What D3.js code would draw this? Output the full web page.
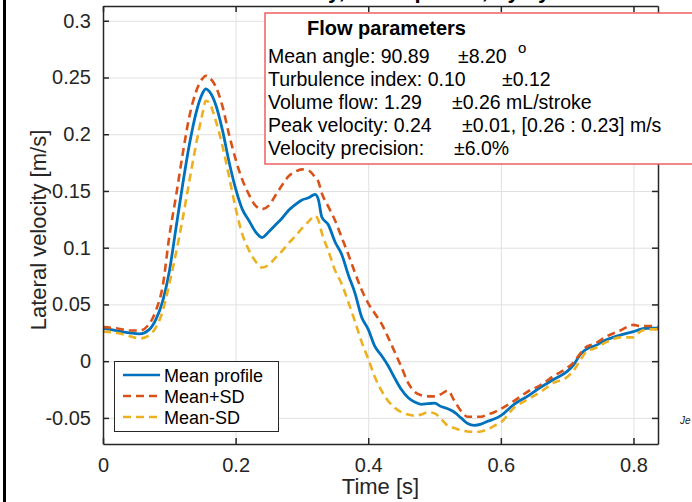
<!DOCTYPE html>
<html>
<head>
<meta charset="utf-8">
<script src="https://cdn.jsdelivr.net/npm/d3@7"></script>
<style>
  body { margin: 0; background: #fff; }
  svg { display: block; font-family: "Liberation Sans", Arial, sans-serif; }
</style>
</head>
<body>
<svg id="chart" width="692" height="502"></svg>
<script>
// time axis (s), shared by the three series
var time = [0, 0.02, 0.04, 0.055, 0.07, 0.08, 0.09, 0.1, 0.11, 0.12, 0.13, 0.14, 0.15, 0.155, 0.16, 0.17, 0.18, 0.19, 0.2,
  0.21, 0.22, 0.23, 0.24, 0.25, 0.26, 0.27, 0.28, 0.29, 0.3, 0.31, 0.32, 0.325, 0.33, 0.34, 0.35, 0.36, 0.37, 0.38, 0.39, 0.4,
  0.41, 0.42, 0.43, 0.44, 0.45, 0.46, 0.47, 0.48, 0.49, 0.5, 0.51, 0.52, 0.53, 0.54, 0.55, 0.56, 0.57, 0.58, 0.59, 0.6,
  0.62, 0.64, 0.66, 0.68, 0.7, 0.71, 0.72, 0.73, 0.74, 0.76, 0.78, 0.8, 0.81, 0.82, 0.83, 0.837];

// lateral velocity (m/s)
var meanProfile = [0.029, 0.027, 0.025, 0.024, 0.028, 0.037, 0.053, 0.079, 0.117, 0.155, 0.19, 0.218, 0.236, 0.240, 0.238, 0.226, 0.204, 0.176, 0.152,
  0.134, 0.124, 0.114, 0.109, 0.114, 0.12, 0.126, 0.133, 0.138, 0.142, 0.144, 0.147, 0.142, 0.127, 0.12, 0.105, 0.094, 0.076, 0.06, 0.039, 0.028,
  0.013, 0.005, -0.004, -0.015, -0.025, -0.032, -0.036, -0.038, -0.0375, -0.037, -0.040, -0.042, -0.045, -0.050, -0.055, -0.0565, -0.0555, -0.053, -0.051, -0.048,
  -0.038, -0.031, -0.023, -0.016, -0.009, -0.003, 0.006, 0.011, 0.013, 0.019, 0.023, 0.026, 0.028, 0.029, 0.029, 0.029];

var meanPlusSD = [0.030, 0.029, 0.027, 0.027, 0.033, 0.045, 0.066, 0.11, 0.145, 0.182, 0.215, 0.237, 0.249, 0.2515, 0.25, 0.242, 0.225, 0.2, 0.178,
  0.16, 0.147, 0.137, 0.134, 0.137, 0.146, 0.155, 0.163, 0.167, 0.169, 0.168, 0.162, 0.158, 0.148, 0.136, 0.124, 0.109, 0.094, 0.078, 0.063, 0.051,
  0.042, 0.033, 0.021, 0.008, -0.005, -0.019, -0.027, -0.030, -0.031, -0.031, -0.029, -0.026, -0.035, -0.044, -0.049, -0.049, -0.049, -0.047, -0.045, -0.042,
  -0.035, -0.027, -0.021, -0.013, -0.006, -0.001, 0.007, 0.013, 0.015, 0.022, 0.027, 0.032, 0.031, 0.031, 0.031, 0.030];

var meanMinusSD = [0.026, 0.025, 0.022, 0.020, 0.023, 0.03, 0.044, 0.068, 0.095, 0.125, 0.158, 0.19, 0.218, 0.2295, 0.228, 0.212, 0.19, 0.163, 0.135,
  0.112, 0.098, 0.088, 0.0825, 0.085, 0.091, 0.097, 0.104, 0.11, 0.117, 0.123, 0.128, 0.124, 0.113, 0.097, 0.08, 0.068, 0.052, 0.035, 0.017, 0.002,
  -0.014, -0.026, -0.035, -0.041, -0.045, -0.047, -0.048, -0.047, -0.045, -0.046, -0.051, -0.057, -0.059, -0.061, -0.062, -0.0623, -0.062, -0.06, -0.057, -0.054,
  -0.041, -0.034, -0.027, -0.019, -0.014, -0.008, 0.001, 0.009, 0.011, 0.017, 0.021, 0.021, 0.026, 0.028, 0.028, 0.028];

var seriesNames = ["Mean profile", "Mean+SD", "Mean-SD"];
var seriesColors = ["#0072BD", "#D95319", "#EDB120"];

var xTicks = [0, 0.2, 0.4, 0.6, 0.8];
var xTickLabels = ["0", "0.2", "0.4", "0.6", "0.8"];
var yTicks = [-0.05, 0, 0.05, 0.1, 0.15, 0.2, 0.25, 0.3];
var yTickLabels = ["-0.05", "0", "0.05", "0.1", "0.15", "0.2", "0.25", "0.3"];

// text of the flow parameter box: [label, value]
var paramTitle = "Flow parameters";
var paramLabels = ["Mean angle: 90.89", "Turbulence index: 0.10", "Volume flow: 1.29", "Peak velocity: 0.24", "Velocity precision:"];
var paramValues = ["\u00b18.20", "\u00b10.12", "\u00b10.26 mL/stroke", "\u00b10.01, [0.26 : 0.23] m/s", "\u00b16.0%"];

// layout (plot area edges)
var pLeft = 103, pRight = 658, pTop = 6, pBottom = 444;
var axisColor = "#262626";

var svg = d3.select("#chart");

// figure edge on the left
svg.append("rect").attr("x", 3).attr("y", 0).attr("width", 3).attr("height", 502).attr("fill", "#000");

// title, mostly above the window
svg.append("text")
  .attr("x", (pLeft + pRight) / 2).attr("y", -2)
  .attr("text-anchor", "middle")
  .attr("font-size", 22).attr("font-weight", "bold")
  .text("Lateral velocity, mean profile, by cycle");

var x = d3.scaleLinear().domain([0, 0.837]).range([pLeft, pRight]);
var y = d3.scaleLinear().domain([-0.073, 0.313]).range([pBottom, pTop]);

// background
svg.append("rect").attr("x", pLeft).attr("y", pTop).attr("width", pRight - pLeft).attr("height", pBottom - pTop).attr("fill", "#fff");

// grid
svg.append("g").attr("transform", "translate(0," + pBottom + ")")
  .call(d3.axisBottom(x).tickValues(xTicks).tickSize(-(pBottom - pTop)).tickFormat(""))
  .call(function (g) { g.select(".domain").remove(); g.selectAll("line").attr("stroke", "#e0e0e0").attr("stroke-width", 1); });
svg.append("g").attr("transform", "translate(" + pLeft + ",0)")
  .call(d3.axisLeft(y).tickValues(yTicks).tickSize(-(pRight - pLeft)).tickFormat(""))
  .call(function (g) { g.select(".domain").remove(); g.selectAll("line").attr("stroke", "#e0e0e0").attr("stroke-width", 1); });

// lines
var data = [meanProfile, meanPlusSD, meanMinusSD];
var line = d3.line()
  .x(function (d, i) { return x(time[i]); })
  .y(function (d) { return y(d); })
  .curve(d3.curveMonotoneX);

svg.append("g").selectAll("path")
  .data(data)
  .enter().append("path")
  .attr("d", line)
  .attr("fill", "none")
  .attr("stroke", function (d, i) { return seriesColors[i]; })
  .attr("stroke-width", function (d, i) { return i == 0 ? 2.8 : 2.6; })
  .attr("stroke-dasharray", function (d, i) { return i == 0 ? null : "8,5"; })
  .attr("stroke-linejoin", "round");

// axes, ticks pointing inward on all four sides
function styleAxis(g) {
  g.select(".domain").attr("stroke", axisColor).attr("stroke-width", 1.5);
  g.selectAll(".tick line").attr("stroke", axisColor).attr("stroke-width", 1.5);
  g.selectAll("text").attr("fill", axisColor).attr("font-size", 20)
    .attr("font-family", "Liberation Sans, Arial, sans-serif");
}
svg.append("g").attr("transform", "translate(0," + pBottom + ")")
  .call(d3.axisBottom(x).tickValues(xTicks).tickSizeInner(-6).tickSizeOuter(0).tickPadding(14)
    .tickFormat(function (d, i) { return xTickLabels[i]; }))
  .call(styleAxis);
svg.append("g").attr("transform", "translate(0," + pTop + ")")
  .call(d3.axisTop(x).tickValues(xTicks).tickSizeInner(-6).tickSizeOuter(0).tickFormat(""))
  .call(styleAxis);
svg.append("g").attr("transform", "translate(" + pLeft + ",0)")
  .call(d3.axisLeft(y).tickValues(yTicks).tickSizeInner(-6).tickSizeOuter(0).tickPadding(12)
    .tickFormat(function (d, i) { return yTickLabels[i]; }))
  .call(styleAxis);
svg.append("g").attr("transform", "translate(" + pRight + ",0)")
  .call(d3.axisRight(y).tickValues(yTicks).tickSizeInner(-6).tickSizeOuter(0).tickFormat(""))
  .call(styleAxis);

// axis labels
svg.append("text")
  .attr("x", (pLeft + pRight) / 2).attr("y", 494)
  .attr("text-anchor", "middle").attr("font-size", 22).attr("fill", axisColor)
  .text("Time [s]");
svg.append("text")
  .attr("transform", "translate(46," + ((pTop + pBottom) / 2 + 5) + ") rotate(-90)")
  .attr("text-anchor", "middle").attr("font-size", 22).attr("fill", axisColor)
  .text("Lateral velocity [m/s]");

// legend
var legend = svg.append("g");
legend.append("rect")
  .attr("x", 114.5).attr("y", 361.5).attr("width", 164).attr("height", 70)
  .attr("fill", "#fff").attr("stroke", axisColor).attr("stroke-width", 1);
seriesNames.forEach(function (name, i) {
  var ly = 375 + i * 21;
  legend.append("line")
    .attr("x1", 123).attr("x2", 160).attr("y1", ly).attr("y2", ly)
    .attr("stroke", seriesColors[i]).attr("stroke-width", 2.6)
    .attr("stroke-dasharray", i == 0 ? null : "8,5");
  legend.append("text")
    .attr("x", 164).attr("y", ly + 6.5)
    .attr("font-size", 18).attr("fill", "#000")
    .text(name);
});

// flow parameters box
var box = svg.append("g");
box.append("rect")
  .attr("x", 265).attr("y", 13).attr("width", 440).attr("height", 151)
  .attr("fill", "#fff").attr("stroke", "#f06060").attr("stroke-width", 1.5);
box.append("text")
  .attr("x", 307).attr("y", 35)
  .attr("font-size", 20).attr("font-weight", "bold")
  .text(paramTitle);
var valueX = [458, 502, 452, 462, 454];
paramLabels.forEach(function (lab, i) {
  var by = 63 + i * 23;
  box.append("text").attr("x", 268).attr("y", by).attr("font-size", 19.5).text(lab);
  box.append("text").attr("x", valueX[i]).attr("y", by).attr("font-size", 19.5).text(paramValues[i]);
});
// degree sign on the angle line
box.append("text").attr("x", 518).attr("y", 53).attr("font-size", 15).text("o");

// cut off credit text at the right edge
svg.append("text")
  .attr("x", 680).attr("y", 424)
  .attr("font-size", 10).attr("font-style", "italic").attr("fill", "#222")
  .text("Je");
</script>
</body>
</html>
